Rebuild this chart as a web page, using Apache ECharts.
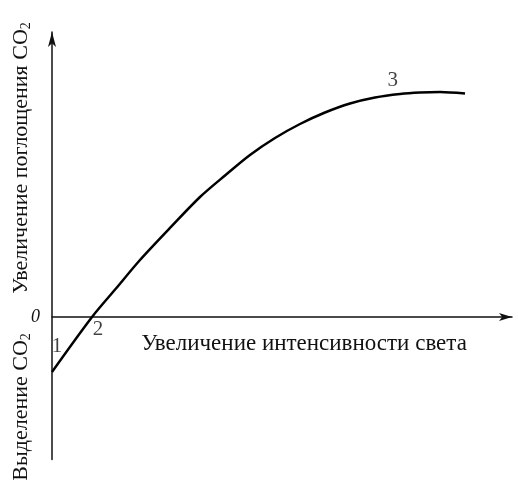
<!DOCTYPE html>
<html>
<head>
<meta charset="utf-8">
<script src="https://cdn.jsdelivr.net/npm/echarts@6/dist/echarts.min.js"></script>
<style>html,body{margin:0;padding:0;background:#fff}#c{width:518px;height:484px}</style>
</head>
<body>
<div id="c"></div>
<script>
// Curve data (light intensity, CO2 exchange) in arbitrary units
const curveX = [0, 8.70, 13.91, 19.13, 25.65, 32.17, 37.61, 43.04, 48.48, 53.91, 59.35, 64.78, 70.22, 75.65, 80.0, 84.35, 89.78];
const curveY = [-11.58, 0, 6.0, 12.0, 18.74, 25.26, 29.79, 34.11, 37.68, 40.63, 43.05, 44.95, 46.21, 46.95, 47.26, 47.37, 47.05];
// Point annotations
const markTexts = ['1', '2', '3'];
const markX = [1.1, 10.0, 74.1];
const markY = [-6.2, -2.7, 49.7];
// Texts
const xTitle = 'Увеличение интенсивности света';
const yTitleUp = 'Увеличение поглощения CO';
const yTitleDown = 'Выделение CO';
const zeroLabel = '0';

const font = '"Liberation Serif", "DejaVu Serif", serif';
const chart = echarts.init(document.getElementById('c'));
chart.setOption({
  animation: false,
  backgroundColor: '#fff',
  grid: { left: 52, top: 32, width: 460, height: 427.5, containLabel: false },
  xAxis: {
    type: 'value', min: 0, max: 100,
    axisLine: { onZero: true, lineStyle: { color: '#111', width: 1.5 }, symbol: ['none', 'arrow'], symbolSize: [6, 13] },
    axisTick: { show: false }, axisLabel: { show: false }, splitLine: { show: false }
  },
  yAxis: {
    type: 'value', min: -30, max: 60, interval: 30,
    axisLine: { show: true, lineStyle: { color: '#111', width: 1.5 }, symbol: ['none', 'arrow'], symbolSize: [6, 15] },
    axisTick: { show: false }, splitLine: { show: false },
    axisLabel: {
      show: true, margin: 12, fontFamily: font, fontStyle: 'italic', fontSize: 18, color: '#111',
      formatter: v => (v === 0 ? zeroLabel : '')
    }
  },
  series: [
    {
      type: 'line', data: curveX.map((x, i) => [x, curveY[i]]),
      smooth: 0.3, showSymbol: false, symbol: 'none',
      lineStyle: { color: '#000', width: 2.5 }
    },
    {
      type: 'scatter', symbolSize: 0,
      data: markX.map((x, i) => ({ value: [x, markY[i]], name: markTexts[i] })),
      label: { show: true, position: 'inside', formatter: p => p.name, fontFamily: font, fontSize: 21, color: '#111' }
    }
  ],
  graphic: [
    { type: 'text', x: 304, y: 344, style: { text: xTitle, font: '23px ' + font, fill: '#111', align: 'center', verticalAlign: 'middle' } },
    { type: 'text', x: 21, y: 158, rotation: Math.PI / 2,
      style: { text: '{a|' + yTitleUp + '}{s|2}', align: 'center', verticalAlign: 'middle',
        rich: { a: { font: '22px ' + font, fill: '#111' }, s: { font: '14px ' + font, fill: '#111', padding: [10, 0, 0, 0] } } } },
    { type: 'text', x: 21, y: 407, rotation: Math.PI / 2,
      style: { text: '{a|' + yTitleDown + '}{s|2}', align: 'center', verticalAlign: 'middle',
        rich: { a: { font: '22px ' + font, fill: '#111' }, s: { font: '14px ' + font, fill: '#111', padding: [10, 0, 0, 0] } } } }
  ]
});
</script>
</body>
</html>
